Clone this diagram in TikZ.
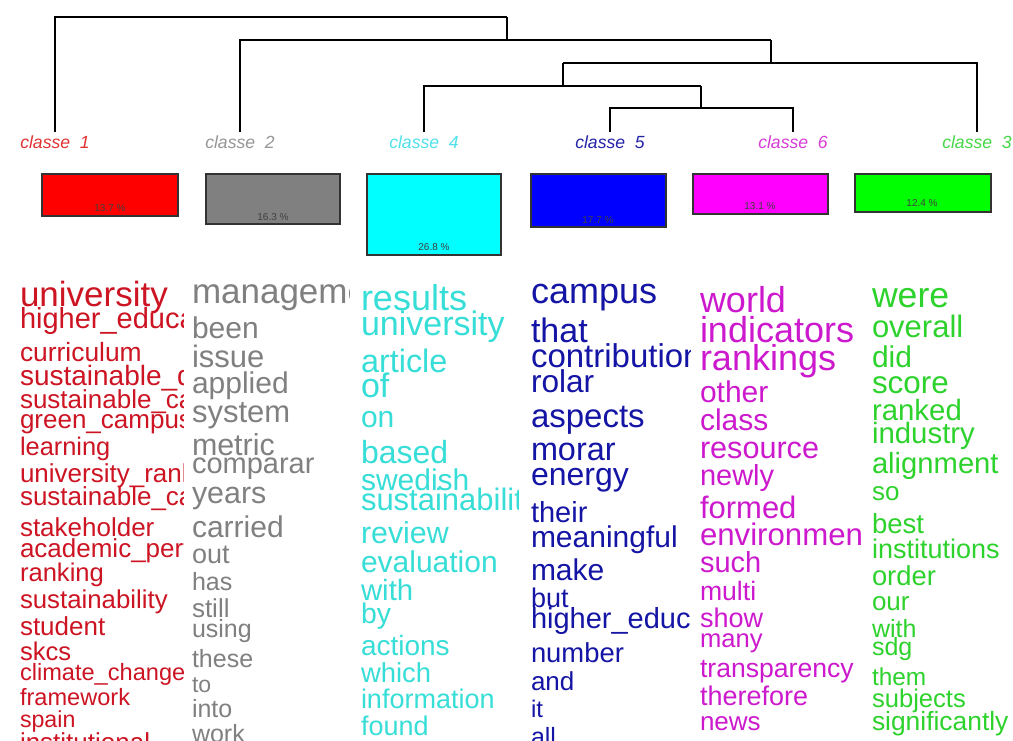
\documentclass[tikz,border=0pt]{standalone}
\usepackage{fontspec}
\setmainfont{Liberation Sans}
\definecolor{wred}{RGB}{205,20,35}
\definecolor{wgrey}{RGB}{128,128,128}
\definecolor{wcyan}{RGB}{55,222,215}
\definecolor{wblue}{RGB}{20,20,165}
\definecolor{wmag}{RGB}{205,25,205}
\definecolor{wgreen}{RGB}{45,210,45}
\definecolor{lred}{RGB}{225,50,50}
\definecolor{lgrey}{RGB}{150,150,150}
\definecolor{lcyan}{RGB}{80,225,235}
\definecolor{lblue}{RGB}{35,35,170}
\definecolor{lmag}{RGB}{215,60,215}
\definecolor{lgreen}{RGB}{70,215,70}
\definecolor{bred}{RGB}{255,0,0}
\definecolor{bgrey}{RGB}{128,128,128}
\definecolor{bcyan}{RGB}{0,255,255}
\definecolor{bblue}{RGB}{0,0,255}
\definecolor{bmag}{RGB}{255,0,255}
\definecolor{bgreen}{RGB}{0,255,0}
\newcommand\colx{0}
\newcommand\wordat[5]{\node[wordnode,text=#2] (#1) at (\colx,#3) {\fontsize{#4pt}{#4pt}\selectfont #5};}
\begin{document}
\begin{tikzpicture}[x=0.5pt,y=-0.5pt,
  wordnode/.style={anchor=base west,inner sep=0pt,outer sep=0pt},
  classlabel/.style={anchor=base,inner sep=0pt,font=\fontsize{8.8pt}{9pt}\selectfont\itshape},
  dend/.style={draw=black,line width=0.7pt},
  clbox/.style={draw=black!80,line width=0.6pt},
  pct/.style={inner sep=0pt,font=\fontsize{5pt}{5pt}\selectfont,text=black!75}]
\useasboundingbox (0,0) rectangle (1013,740);
\fill[white] (0,0) rectangle (1013,740);

% class labels
\node[classlabel,text=lred]   (k1) at (55,148)  {classe\ \ 1};
\node[classlabel,text=lgrey]  (k2) at (240,148) {classe\ \ 2};
\node[classlabel,text=lcyan]  (k4) at (424,148) {classe\ \ 4};
\node[classlabel,text=lblue]  (k5) at (610,148) {classe\ \ 5};
\node[classlabel,text=lmag]   (k6) at (793,148) {classe\ \ 6};
\node[classlabel,text=lgreen] (k3) at (977,148) {classe\ \ 3};

% dendrogram
\coordinate (l1) at (55,132);
\coordinate (l2) at (240,132);
\coordinate (l4) at (424,132);
\coordinate (l5) at (610,132);
\coordinate (l6) at (793,132);
\coordinate (l3) at (977,132);
\coordinate (j5) at (701,108);
\coordinate (j4) at (563,86);
\coordinate (j3) at (771,63);
\coordinate (j2) at (507,40);
\draw[dend] (l5) |- (j5) -| (l6);
\draw[dend] (j5) -- ++(0,-22);
\draw[dend] (l4) |- (j4) -| (j5 |- j4);
\draw[dend] (j4) -- ++(0,-23);
\draw[dend] (j4 |- j3) -| (l3);
\draw[dend] (j4 |- j3) -- (j3);
\draw[dend] (j3) -- ++(0,-23);
\draw[dend] (l2) |- (j2) -| (j3 |- j2);
\draw[dend] (j2) -- ++(0,-23);
\draw[dend] (l1) |- (507,17) -- (j2 |- 0,17);

% boxes
\draw[clbox,fill=bred]   (42,174)  rectangle (178,216);
\node[pct] (p1) at (110,208) {13.7 \%};
\draw[clbox,fill=bgrey]  (206,174) rectangle (340,224);
\node[pct] (p2) at (273,217) {16.3 \%};
\draw[clbox,fill=bcyan]  (367,174) rectangle (501,255);
\node[pct] (p4) at (434,247) {26.8 \%};
\draw[clbox,fill=bblue]  (531,174) rectangle (666,227);
\node[pct] (p5) at (598,220) {17.7 \%};
\draw[clbox,fill=bmag]   (693,174) rectangle (828,214);
\node[pct] (p6) at (760,206) {13.1 \%};
\draw[clbox,fill=bgreen] (855,174) rectangle (991,212);
\node[pct] (p3) at (922,203) {12.4 \%};

% column 1
\begin{scope}
\clip (15,270) rectangle (183,740);
\renewcommand\colx{20}
\wordat{a1}{wred}{306}{17.5}{university}
\wordat{a2}{wred}{328}{14.5}{higher\_educa}
\wordat{a3}{wred}{361}{13.2}{curriculum}
\wordat{a4}{wred}{385}{14}{sustainable\_d}
\wordat{a5}{wred}{408}{13}{sustainable\_ca}
\wordat{a6}{wred}{428}{13}{green\_campus}
\wordat{a7}{wred}{455}{12.7}{learning}
\wordat{a8}{wred}{482}{13}{university\_ranking}
\wordat{a9}{wred}{505}{13}{sustainable\_ca}
\wordat{a10}{wred}{536}{13}{stakeholder}
\wordat{a11}{wred}{557}{13}{academic\_performance}
\wordat{a12}{wred}{581}{12.8}{ranking}
\wordat{a13}{wred}{608}{12.9}{sustainability}
\wordat{a14}{wred}{635}{13}{student}
\wordat{a15}{wred}{660}{12.8}{skcs}
\wordat{a16}{wred}{680}{11.8}{climate\_change}
\wordat{a17}{wred}{705}{11.8}{framework}
\wordat{a18}{wred}{727}{11.6}{spain}
\wordat{a19}{wred}{751}{13}{institutional}
\end{scope}

% column 2
\begin{scope}
\clip (188,270) rectangle (349,740);
\renewcommand\colx{192}
\wordat{b1}{wgrey}{303}{17.5}{management}
\wordat{b2}{wgrey}{338}{15}{been}
\wordat{b3}{wgrey}{367}{15.5}{issue}
\wordat{b4}{wgrey}{393}{15}{applied}
\wordat{b5}{wgrey}{422}{15.5}{system}
\wordat{b6}{wgrey}{455}{15.2}{metric}
\wordat{b7}{wgrey}{473}{14.5}{comparar}
\wordat{b8}{wgrey}{503}{15.2}{years}
\wordat{b9}{wgrey}{537}{15}{carried}
\wordat{b10}{wgrey}{563}{13.5}{out}
\wordat{b11}{wgrey}{590}{12.5}{has}
\wordat{b12}{wgrey}{617}{13}{still}
\wordat{b13}{wgrey}{637}{12.5}{using}
\wordat{b14}{wgrey}{667}{12.5}{these}
\wordat{b15}{wgrey}{692}{11.5}{to}
\wordat{b16}{wgrey}{717}{12.5}{into}
\wordat{b17}{wgrey}{742}{12.5}{work}
\end{scope}

% column 3
\begin{scope}
\clip (356,270) rectangle (518,740);
\renewcommand\colx{361}
\wordat{c1}{wcyan}{310}{18}{results}
\wordat{c2}{wcyan}{335}{17}{university}
\wordat{c3}{wcyan}{372}{16.2}{article}
\wordat{c4}{wcyan}{397}{17}{of}
\wordat{c5}{wcyan}{427}{15}{on}
\wordat{c6}{wcyan}{463}{16}{based}
\wordat{c7}{wcyan}{490}{15}{swedish}
\wordat{c8}{wcyan}{510}{15.5}{sustainability}
\wordat{c9}{wcyan}{543}{15.2}{review}
\wordat{c10}{wcyan}{572}{15}{evaluation}
\wordat{c11}{wcyan}{600}{14.7}{with}
\wordat{c12}{wcyan}{623}{14.2}{by}
\wordat{c13}{wcyan}{655}{14}{actions}
\wordat{c14}{wcyan}{682}{13.7}{which}
\wordat{c15}{wcyan}{708}{13.5}{information}
\wordat{c16}{wcyan}{735}{13.5}{found}
\end{scope}

% column 4
\begin{scope}
\clip (526,270) rectangle (690,740);
\renewcommand\colx{531}
\wordat{d1}{wblue}{303}{18}{campus}
\wordat{d2}{wblue}{342}{17}{that}
\wordat{d3}{wblue}{367}{16.5}{contribution}
\wordat{d4}{wblue}{392}{15.8}{rolar}
\wordat{d5}{wblue}{427}{16.5}{aspects}
\wordat{d6}{wblue}{460}{16.2}{morar}
\wordat{d7}{wblue}{485}{16}{energy}
\wordat{d8}{wblue}{522}{14.5}{their}
\wordat{d9}{wblue}{547}{15}{meaningful}
\wordat{d10}{wblue}{580}{15}{make}
\wordat{d11}{wblue}{607}{13.5}{but}
\wordat{d12}{wblue}{628}{14.5}{higher\_education}
\wordat{d13}{wblue}{662}{13.7}{number}
\wordat{d14}{wblue}{690}{13}{and}
\wordat{d15}{wblue}{717}{12}{it}
\wordat{d16}{wblue}{745}{12.5}{all}
\end{scope}

% column 5
\begin{scope}
\clip (695,270) rectangle (861,740);
\renewcommand\colx{700}
\wordat{e1}{wmag}{312}{18}{world}
\wordat{e2}{wmag}{342}{18}{indicators}
\wordat{e3}{wmag}{370}{18}{rankings}
\wordat{e4}{wmag}{402}{15}{other}
\wordat{e5}{wmag}{430}{15}{class}
\wordat{e6}{wmag}{458}{15.3}{resource}
\wordat{e7}{wmag}{485}{14.5}{newly}
\wordat{e8}{wmag}{518}{15.5}{formed}
\wordat{e9}{wmag}{545}{15.6}{environment}
\wordat{e10}{wmag}{572}{14.5}{such}
\wordat{e11}{wmag}{600}{13.3}{multi}
\wordat{e12}{wmag}{627}{13.5}{show}
\wordat{e13}{wmag}{647}{12.8}{many}
\wordat{e14}{wmag}{677}{13.3}{transparency}
\wordat{e15}{wmag}{705}{13.5}{therefore}
\wordat{e16}{wmag}{730}{13}{news}
\end{scope}

% column 6
\begin{scope}
\clip (867,270) rectangle (1013,740);
\renewcommand\colx{872}
\wordat{f1}{wgreen}{307}{17.8}{were}
\wordat{f2}{wgreen}{337}{15.5}{overall}
\wordat{f3}{wgreen}{367}{15}{did}
\wordat{f4}{wgreen}{393}{15.7}{score}
\wordat{f5}{wgreen}{420}{14.7}{ranked}
\wordat{f6}{wgreen}{443}{14.7}{industry}
\wordat{f7}{wgreen}{473}{14.6}{alignment}
\wordat{f8}{wgreen}{500}{13}{so}
\wordat{f9}{wgreen}{533}{13.8}{best}
\wordat{f10}{wgreen}{558}{13.5}{institutions}
\wordat{f11}{wgreen}{585}{13.7}{order}
\wordat{f12}{wgreen}{610}{13}{our}
\wordat{f13}{wgreen}{637}{12.5}{with}
\wordat{f14}{wgreen}{655}{12.5}{sdg}
\wordat{f15}{wgreen}{685}{12.2}{them}
\wordat{f16}{wgreen}{707}{12.8}{subjects}
\wordat{f17}{wgreen}{730}{13.2}{significantly}
\end{scope}
\end{tikzpicture}
\end{document}
